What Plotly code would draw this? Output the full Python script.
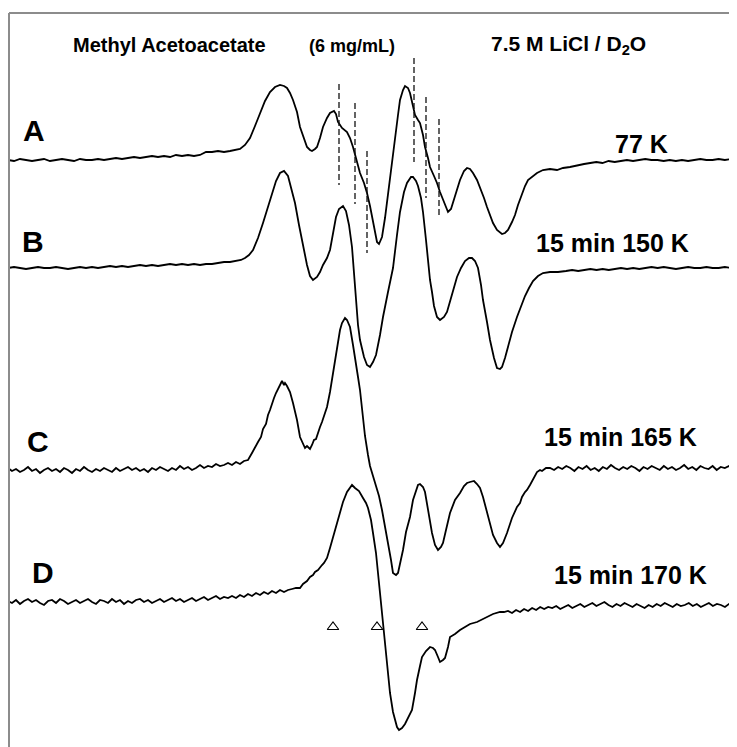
import numpy as np
import plotly.graph_objects as go

# Field position (horizontal units) and signal level (vertical units, larger = lower on page)
# ---------------- Spectrum A (77 K) ----------------
A_left_y = [160, 161, 159, 160, 161, 160, 159, 161, 160, 159, 160, 161, 159, 160, 160, 159,
            160, 159, 158, 159, 158, 157, 158, 157, 156, 157, 156, 157, 155, 156, 155, 156,
            155, 152, 152, 151, 152, 151, 150]
A_mid_x = [240, 245, 250, 255, 260, 265, 270, 275, 280, 284, 287, 290, 293, 297, 300, 304, 307,
           310, 312, 315, 317, 320, 323, 327, 330, 334, 336, 338, 342, 347, 350, 353, 357, 360,
           364, 367, 370, 372, 375, 377, 379, 382, 385, 388, 391, 395, 398, 400, 403, 405, 408,
           410, 413, 415, 418, 420, 423, 425, 428, 430, 434, 437, 440, 443, 446, 448, 451, 453,
           457, 460, 464, 467, 470, 473, 477, 480, 484, 487, 490, 493, 497, 502, 505, 508, 512,
           515, 518, 522, 525, 528, 533, 537, 543, 550, 557, 563, 570]
A_mid_y = [149, 145, 138, 126, 113, 101, 92, 87, 85, 86, 88, 93, 100, 112, 127, 139, 147,
           150, 151, 149, 147, 138, 127, 118, 113, 111, 114, 122, 128, 132, 138, 147, 162, 173,
           183, 193, 206, 217, 232, 242, 244, 237, 218, 193, 170, 140, 115, 100, 90, 86, 88,
           93, 105, 115, 120, 123, 135, 147, 158, 167, 176, 183, 192, 200, 208, 212, 209, 203,
           190, 180, 171, 168, 169, 173, 180, 187, 198, 207, 216, 223, 230, 234, 233, 230, 222,
           215, 205, 193, 186, 180, 176, 173, 170, 169, 170, 168, 167]
A_right_y = [165, 164, 163, 162, 163, 161, 162, 161, 160, 161, 160, 159, 160, 160, 161, 160,
             161, 160, 161, 160, 159, 160, 160, 159, 160, 159, 159]

# ---------------- Spectrum B (15 min 150 K) ----------------
B_left_y = [268, 267, 268, 269, 268, 267, 268, 268, 267, 268, 269, 268, 267, 268, 267, 268,
            267, 266, 267, 266, 267, 266, 265, 266, 265, 266, 265, 264, 265, 264, 265, 264,
            265, 264, 264, 263, 262, 262, 261]
B_mid_x = [241, 245, 249, 253, 258, 263, 268, 272, 276, 280, 284, 288, 291, 295, 299, 303, 307,
           310, 313, 317, 320, 323, 327, 330, 333, 336, 339, 343, 346, 349, 352, 354, 356, 358,
           360, 364, 367, 370, 373, 376, 380, 383, 388, 393, 397, 400, 404, 407, 411, 413, 416,
           418, 421, 423, 426, 428, 430, 432, 434, 437, 440, 444, 447, 451, 457, 461, 465, 469,
           472, 475, 478, 481, 483, 487, 490, 494, 497, 500, 502, 505, 508, 512, 517, 521, 525,
           529, 533, 538, 543, 550, 558]
B_mid_y = [260, 258, 255, 250, 238, 223, 206, 193, 181, 173, 171, 176, 187, 203, 225, 247, 265,
           276, 280, 277, 272, 265, 258, 250, 233, 217, 209, 206, 211, 225, 247, 275, 305, 325,
           340, 357, 365, 367, 362, 355, 335, 317, 292, 268, 235, 212, 192, 183, 177, 177, 181,
           186, 198, 212, 240, 262, 280, 292, 306, 317, 320, 317, 312, 298, 277, 268, 261, 258,
           258, 261, 268, 285, 300, 322, 340, 358, 368, 369, 367, 358, 347, 332, 317, 306, 296,
           288, 281, 276, 273, 272, 272]
B_right_y = [271, 270, 271, 270, 269, 270, 269, 270, 269, 268, 269, 268, 269, 268, 267, 268,
             267, 268, 269, 268, 267, 268, 268, 267, 268, 268, 267, 268, 268]

# ---------------- Spectrum C (15 min 165 K) ----------------
C_left_y = [468, 471, 469, 472, 470, 467, 471, 469, 473, 470, 468, 471, 469, 472, 468, 470,
            473, 469, 471, 467, 470, 472, 469, 471, 468, 470, 472, 468, 471, 469, 467, 470,
            468, 471, 469, 472, 468, 470, 467, 469, 471, 468, 470, 466, 469, 467, 470, 468,
            465, 468, 466, 467, 464, 466, 465, 463, 465, 462, 464, 461, 460]
C_mid_x = [252, 255, 258, 261, 263, 266, 268, 270, 272, 274, 276, 279, 281, 282, 284, 285, 287,
           290, 293, 297, 300, 303, 305, 307, 310, 312, 314, 316, 318, 320, 322, 324, 327, 330,
           333, 336, 338, 340, 342, 345, 347, 350, 353, 355, 358, 360, 363, 365, 368, 370, 373,
           376, 379, 382, 385, 388, 391, 393, 396, 398, 401, 403, 406, 410, 413, 416, 418, 420,
           423, 425, 428, 432, 435, 438, 441, 443, 446, 450, 455, 460, 464, 467, 470, 474, 477,
           480, 483, 487, 490, 493, 497, 500, 503, 507, 512, 517, 520, 522, 525, 527, 530, 532,
           534, 537, 540, 542, 546]
C_mid_y = [453, 447, 442, 437, 429, 424, 415, 410, 403, 398, 393, 387, 384, 381, 385, 383, 386,
           392, 403, 420, 437, 443, 448, 446, 449, 445, 440, 439, 432, 427, 422, 415, 407, 392,
           373, 352, 340, 330, 323, 318, 320, 327, 345, 360, 377, 390, 418, 436, 455, 466, 476,
           486, 496, 510, 526, 543, 560, 573, 575, 573, 560, 550, 532, 517, 500, 490, 485, 484,
           487, 492, 510, 533, 545, 550, 547, 543, 530, 513, 500, 493, 486, 483, 482, 481, 484,
           488, 497, 512, 523, 535, 543, 547, 543, 533, 518, 507, 503, 497, 492, 490, 485, 481,
           477, 472, 470, 471, 468]
C_right_y = [468, 470, 467, 469, 466, 468, 471, 467, 469, 466, 470, 468, 471, 467, 469, 465,
             468, 470, 467, 469, 466, 468, 471, 467, 469, 466, 468, 470, 466, 469, 467, 470,
             468, 465, 469, 467, 470, 466, 468, 469, 466, 470, 467, 468, 466, 469, 470]

# ---------------- Spectrum D (15 min 170 K) ----------------
D_left_y = [601, 603, 600, 604, 601, 599, 602, 600, 603, 605, 601, 600, 603, 599, 601, 604,
            602, 600, 603, 601, 599, 602, 604, 600, 601, 603, 599, 602, 600, 604, 601, 603,
            600, 599, 602, 600, 603, 601, 599, 602, 600, 598, 601, 599, 602, 600, 598, 601,
            599, 597, 600, 598, 596, 599, 597, 598, 596, 598, 595, 597, 594, 596, 593, 595,
            592, 594, 591, 593, 590, 592, 590, 589, 588]
D_mid_x = [300, 303, 307, 310, 313, 315, 318, 320, 322, 324, 327, 330, 333, 337, 340, 343, 347,
           350, 352, 355, 359, 363, 366, 368, 371, 373, 376, 378, 380, 382, 384, 385, 388, 390,
           393, 395, 397, 399, 402, 405, 409, 412, 415, 417, 420, 422, 426, 430, 433, 435, 438,
           440, 443, 445, 448, 450, 455, 460, 465, 470, 477, 485, 493, 500]
D_mid_y = [588, 584, 581, 577, 575, 572, 570, 567, 565, 563, 558, 548, 537, 522, 513, 502, 492,
           487, 485, 488, 491, 498, 503, 508, 520, 533, 553, 573, 593, 613, 633, 647, 672, 693,
           712, 720, 727, 730, 728, 724, 716, 710, 693, 680, 666, 657, 651, 647, 648, 650, 657,
           662, 660, 658, 647, 637, 634, 630, 627, 624, 622, 618, 614, 612]
D_right_y = [612, 611, 613, 610, 612, 609, 611, 608, 610, 607, 609, 607, 608, 606, 609, 607,
             605, 608, 606, 604, 607, 605, 603, 606, 604, 602, 605, 607, 604, 606, 603, 605,
             607, 604, 606, 608, 605, 607, 604, 606, 603, 605, 607, 604, 606, 605, 603, 606,
             604, 607, 605, 603, 606, 604, 605, 607, 604, 606, 605]

# Dashed line markers on spectrum A
dash_x = [339, 355, 367, 414, 426, 439]
dash_top = [84, 103, 151, 58, 97, 119]
dash_bottom = [185, 204, 253, 162, 198, 218]

# Triangle markers below spectrum D
tri_x = [333, 377, 422]
tri_y = [627, 627, 627]

# Labels
letters = ["A", "B", "C", "D"]
letter_x = [34, 33, 38, 43]
letter_y = [130, 241, 441, 572]
temps = ["77 K", "15 min 150 K", "15 min 165 K", "15 min 170 K"]
temp_x = [641, 612, 620, 630]
temp_y = [144, 243, 437, 575]


def build(left_y, left_span, mid_x, mid_y, right_y, right_span):
    lx = np.linspace(left_span[0], left_span[1], len(left_y))
    rx = np.linspace(right_span[0], right_span[1], len(right_y))
    return (list(lx) + list(mid_x) + list(rx), list(left_y) + list(mid_y) + list(right_y))


spectra = [
    build(A_left_y, (8, 236), A_mid_x, A_mid_y, A_right_y, (578, 737)),
    build(B_left_y, (8, 236), B_mid_x, B_mid_y, B_right_y, (566, 737)),
    build(C_left_y, (8, 248), C_mid_x, C_mid_y, C_right_y, (550, 737)),
    build(D_left_y, (8, 296), D_mid_x, D_mid_y, D_right_y, (504, 737)),
]

fig = go.Figure()
for xs, ys in spectra:
    fig.add_trace(go.Scatter(x=xs, y=ys, mode="lines",
                             line=dict(color="black", width=1.8), hoverinfo="skip"))

for x, t, b in zip(dash_x, dash_top, dash_bottom):
    fig.add_trace(go.Scatter(x=[x, x], y=[t, b], mode="lines",
                             line=dict(color="#111111", width=1.3, dash="6px,3px"),
                             hoverinfo="skip"))

fig.add_trace(go.Scatter(x=tri_x, y=tri_y, mode="markers",
                         marker=dict(symbol="triangle-up-open", size=10, color="black",
                                     line=dict(width=1.1)), hoverinfo="skip"))

font_b = "Liberation Sans, Arial, sans-serif"
annots = [
    dict(x=169, y=45, text="<b>Methyl Acetoacetate</b>", size=20),
    dict(x=352, y=46, text="<b>(6 mg/mL)</b>", size=18),
    dict(x=568, y=45, text="<b>7.5 M LiCl / D<sub>2</sub>O</b>", size=21),
]
for L, x, y in zip(letters, letter_x, letter_y):
    annots.append(dict(x=x, y=y, text=f"<b>{L}</b>", size=30))
for T, x, y in zip(temps, temp_x, temp_y):
    annots.append(dict(x=x, y=y, text=f"<b>{T}</b>", size=25))

for a in annots:
    fig.add_annotation(x=a["x"], y=a["y"], text=a["text"], showarrow=False,
                       xref="x", yref="y", xanchor="center", yanchor="middle",
                       font=dict(family=font_b, size=a["size"], color="black"))

# frame lines (top and left)
fig.add_shape(type="line", x0=9, x1=737, y0=13, y1=13, xref="x", yref="y",
              line=dict(color="#8c8c8c", width=2))
fig.add_shape(type="line", x0=9, x1=9, y0=13, y1=747, xref="x", yref="y",
              line=dict(color="#8c8c8c", width=2))

# the page body adds an 8 px margin, so the figure is 8 px smaller and the ranges start at 8
fig.update_layout(width=729, height=739, margin=dict(l=0, r=0, t=0, b=0),
                  paper_bgcolor="white", plot_bgcolor="white", showlegend=False)
fig.update_xaxes(range=[8, 737], visible=False, fixedrange=True)
fig.update_yaxes(range=[747, 8], visible=False, fixedrange=True)

fig.write_html("out.html")
